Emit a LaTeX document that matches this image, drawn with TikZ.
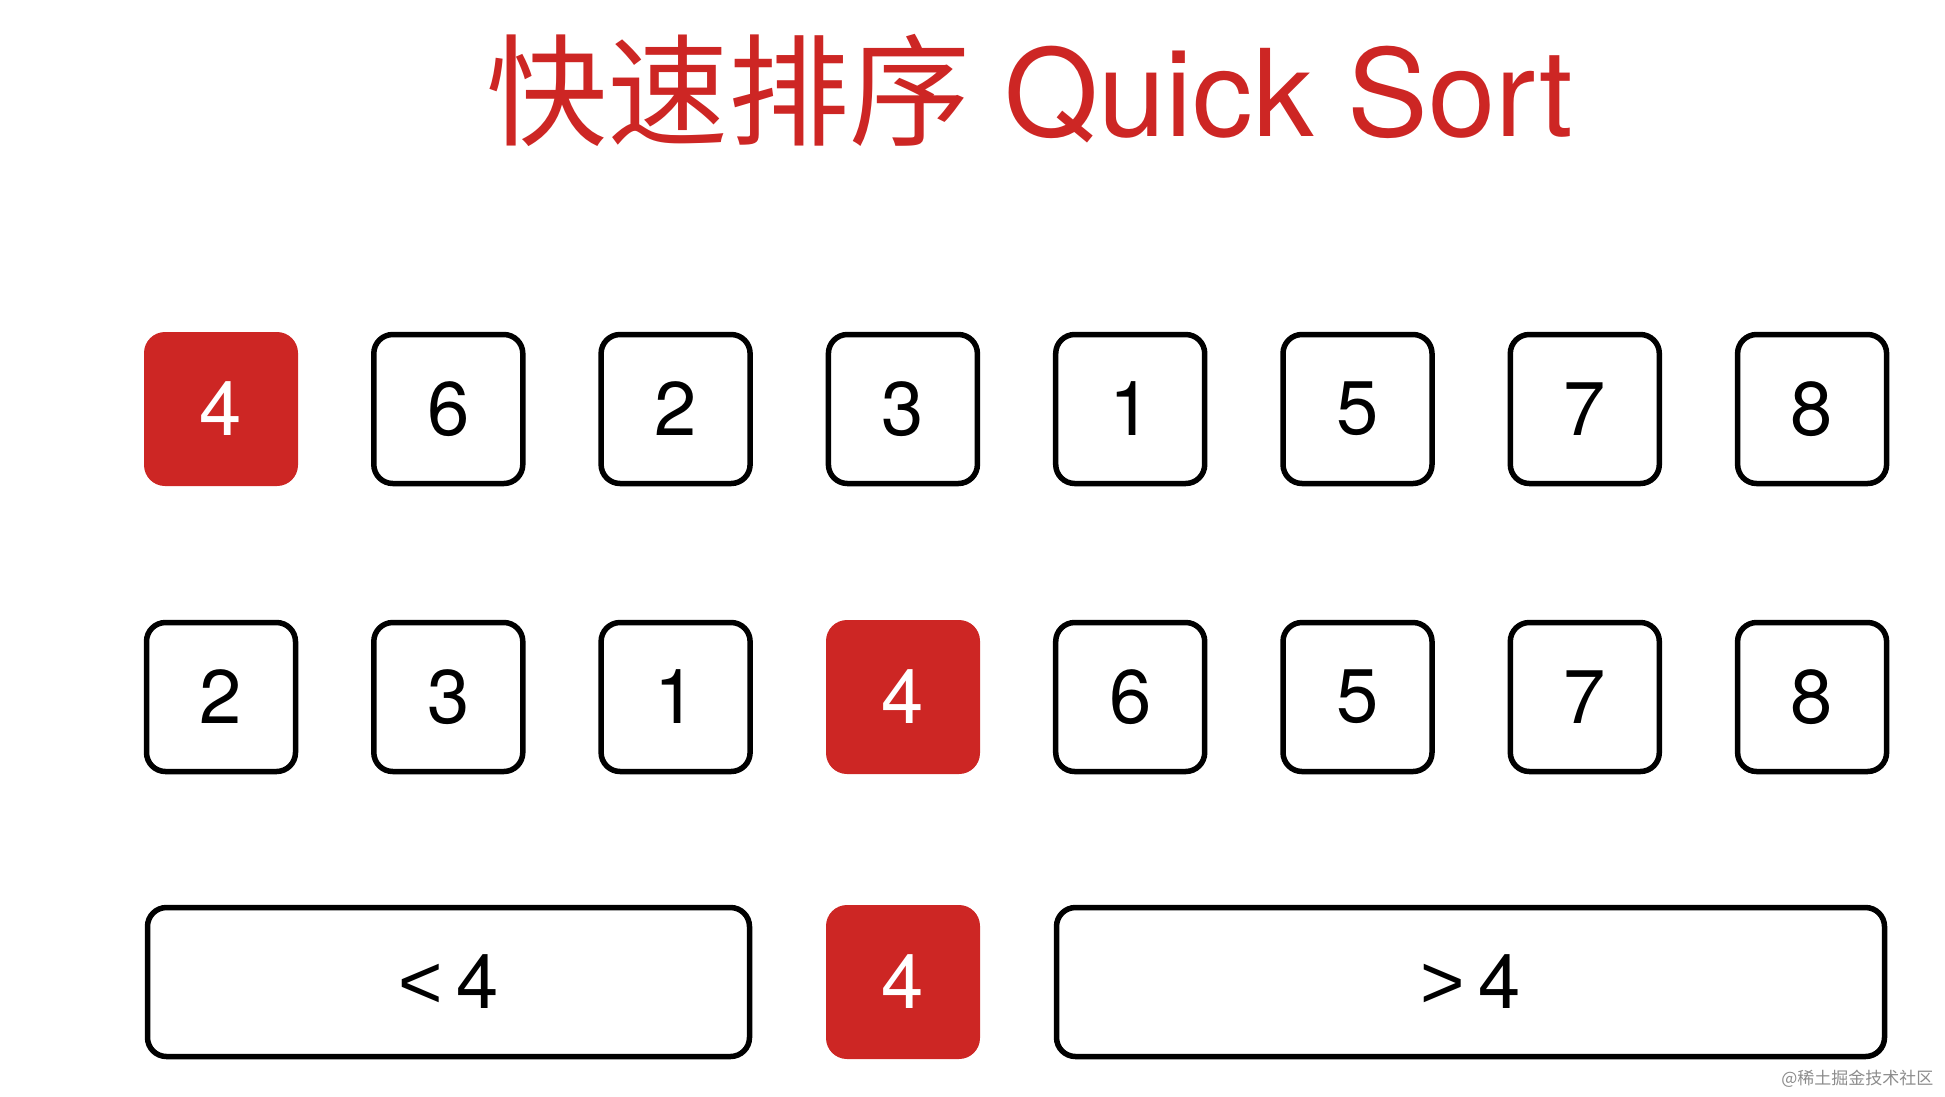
\documentclass[tikz,border=0pt]{standalone}
\usepackage{fontspec}
\setmainfont{TeX Gyre Heros}
\newfontfamily\cjk{Noto Sans CJK SC}
\newfontfamily\relfont{Liberation Sans}
\definecolor{qsred}{RGB}{205,38,36}
\tikzset{
  cell/.style={draw=black, line width=5.5pt, rounded corners=19pt,
    minimum size=149pt, inner sep=0pt, font=\fontsize{76}{76}\selectfont},
  pivot/.style={fill=qsred, text=white, rounded corners=21pt,
    minimum size=154pt, inner sep=0pt, font=\fontsize{76}{76}\selectfont},
}
\begin{document}
\begin{tikzpicture}[x=1pt,y=-1pt]
            \useasboundingbox (0,0) rectangle (1945,1096);
            \node[text=qsred, font=\fontsize{121}{121}\selectfont] (title) at (1030,90) {{\cjk 快速排序} Quick Sort};

            % first row
            \node[pivot] (a0) at (221,409) {4};
            \foreach \v [count=\i] in {6,2,3,1,5,7,8}
                \node[cell] (a\i) at (221+227.3*\i,409) {\v};

            % second row
            \foreach \v [count=\i from 0] in {2,3,1}
                \node[cell] (b\i) at (221+227.3*\i,697) {\v};
            \node[pivot] (b3) at (903,697) {4};
            \foreach \v [count=\i from 4] in {6,5,7,8}
                \node[cell] (b\i) at (221+227.3*\i,697) {\v};

            % third row
            \node[cell, minimum width=602pt] (less) at (448.5,982) {{\relfont <}\kern14pt 4};
            \node[pivot] (mid) at (903,982) {4};
            \node[cell, minimum width=828pt] (more) at (1470.5,982) {{\relfont >}\kern14pt 4};

            \node[anchor=east, text=black!45, font=\cjk\fontsize{17}{17}\selectfont] (mark) at (1937,1079) {@稀土掘金技术社区};
        \end{tikzpicture}
\end{document}
